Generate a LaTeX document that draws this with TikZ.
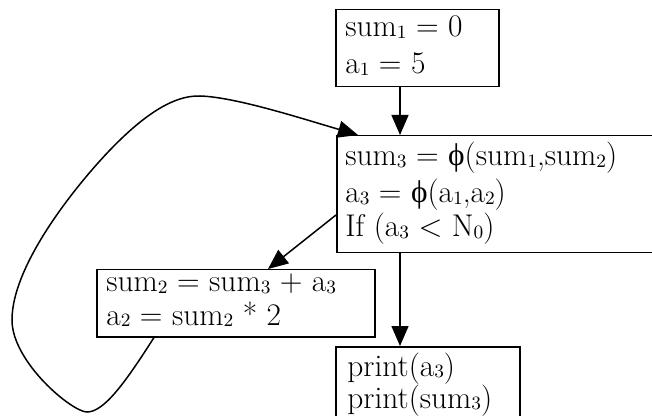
\documentclass[tikz,border=0pt]{standalone}
\usepackage{fontspec}
\newfontfamily\grk{Liberation Serif}
\usetikzlibrary{arrows.meta}
\newcommand\sbx[1]{\raisebox{-0.12ex}{\fontsize{9.4}{9.4}\selectfont #1}}
\newcommand\phix{{\grk ϕ}}
\begin{document}
\begin{tikzpicture}[x=0.5pt,y=-0.5pt,
  box/.style={draw,line width=0.75pt,inner sep=0pt,anchor=north west},
  txt/.style={anchor=base west,inner sep=0pt,font=\fontsize{15.7}{18}\selectfont},
  arr/.style={line width=0.75pt,-{Triangle[length=10pt,width=8.5pt]}}]
\clip (0,0) rectangle (652,416);
\useasboundingbox (0,0) rectangle (652,416);
% boxes
\node[box,minimum width=81.5pt,minimum height=38.5pt] (b1) at (335,9) {};
\node[box,minimum width=172pt,minimum height=58.5pt] (b2) at (336,135) {};
\node[box,minimum width=139pt,minimum height=33.5pt] (b3) at (96,269) {};
\node[box,minimum width=92pt,minimum height=50pt] (b4) at (335,346) {};
% texts
\node[txt] (t11) at (345,37) {sum\sbx{1} = 0};
\node[txt] (t12) at (345,74) {a\sbx{1} = 5};
\node[txt] (t21) at (345,166) {sum\sbx{3} = \phix(sum\sbx{1},sum\sbx{2})};
\node[txt] (t22) at (345,203) {a\sbx{3} = \phix(a\sbx{1},a\sbx{2})};
\node[txt] (t23) at (345,237) {If (a\sbx{3} < N\sbx{0})};
\node[txt] (t31) at (106,292) {sum\sbx{2} = sum\sbx{3} + a\sbx{3}};
\node[txt] (t32) at (106,325) {a\sbx{2} = sum\sbx{2} * 2};
\node[txt] (t41) at (347,376) {print(a\sbx{3})};
\node[txt] (t42) at (347,408) {print(sum\sbx{3})};
% connectors
\draw[arr] ([xshift=32.5pt]b1.south west) -- ([xshift=32pt]b2.north west);
\draw[arr] ([yshift=-40pt]b2.north west) -- ([xshift=86pt]b3.north west);
\draw[arr] ([xshift=32pt]b2.south west) -- ([xshift=32.5pt]b4.north west);
\coordinate (c0) at ([xshift=29pt]b3.south west);
\draw[arr] (c0) .. controls (125,383) and (104,412) .. (87,412)
  .. controls (72,412) and (12,362) .. (12,320)
  .. controls (12,262) and (82,179) .. (110,150)
  .. controls (138,121) and (170,95) .. (200,96)
  .. controls (235,97) and (300,118) .. ([xshift=11pt]b2.north west);
\end{tikzpicture}
\end{document}
